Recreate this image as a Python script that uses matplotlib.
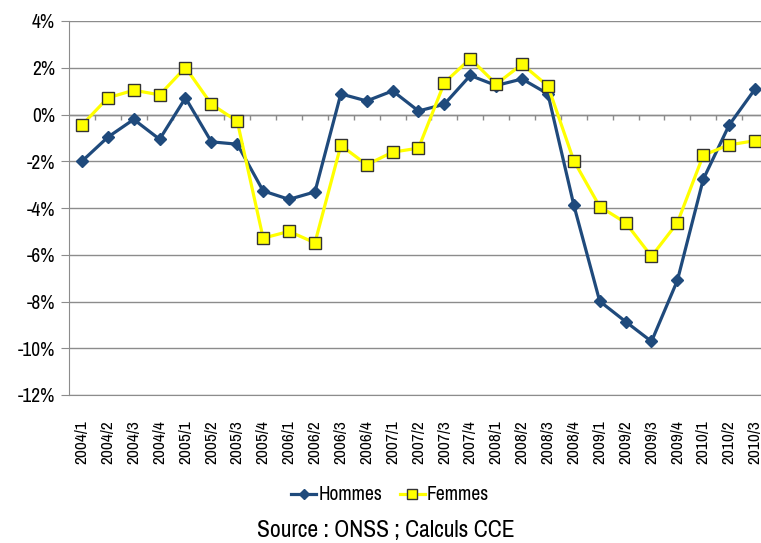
import matplotlib
matplotlib.use("Agg")
import matplotlib.pyplot as plt
import numpy as np
from matplotlib.ticker import FuncFormatter

plt.rcParams['font.family'] = ['Archivo Narrow', 'Liberation Sans Narrow', 'DejaVu Sans']

quarters = ["2004/1", "2004/2", "2004/3", "2004/4", "2005/1", "2005/2", "2005/3", "2005/4",
            "2006/1", "2006/2", "2006/3", "2006/4", "2007/1", "2007/2", "2007/3", "2007/4",
            "2008/1", "2008/2", "2008/3", "2008/4", "2009/1", "2009/2", "2009/3", "2009/4",
            "2010/1", "2010/2", "2010/3"]
hommes = [-2.0, -0.97, -0.21, -1.06, 0.71, -1.17, -1.27, -3.27,
          -3.63, -3.31, 0.88, 0.58, 1.01, 0.15, 0.44, 1.67,
          1.24, 1.52, 0.88, -3.88, -7.99, -8.86, -9.71, -7.10,
          -2.77, -0.45, 1.09]
femmes = [-0.45, 0.71, 1.04, 0.84, 2.01, 0.44, -0.29, -5.29,
          -5.0, -5.49, -1.32, -2.15, -1.61, -1.44, 1.36, 2.39,
          1.30, 2.15, 1.22, -1.98, -3.94, -4.63, -6.07, -4.63,
          -1.74, -1.30, -1.12]

blue = "#1F4A7C"
grey = "#8C8C8C"

fig = plt.figure(figsize=(7.61, 5.43), dpi=100)
ax = fig.add_axes([69/761, 1-395/543, (768-69)/761, (395-21)/543])

x = np.arange(len(quarters))
ax.plot(x, hommes, color=blue, lw=2.3, marker="D", markersize=6,
        markerfacecolor=blue, markeredgecolor=blue, label="Hommes", zorder=3)
ax.plot(x, femmes, color="#FFFF00", lw=2.3, marker="s", markersize=8.5,
        markerfacecolor="#FFFF00", markeredgecolor="#333333", markeredgewidth=1,
        label="Femmes", zorder=4)

ax.set_xlim(-0.5, len(quarters) - 0.5)
ax.set_ylim(-12, 4)
ax.set_yticks(np.arange(-12, 5, 2))
ax.yaxis.set_major_formatter(FuncFormatter(lambda v, p: f"{v:.0f}%"))
ax.grid(axis="y", color=grey, lw=1)
ax.set_axisbelow(True)

ax.set_xticks(x)
ax.set_xticklabels(quarters, rotation=90, fontsize=12.5)
ax.tick_params(axis="x", length=0, pad=18)
ax.tick_params(axis="y", length=6, color=grey, labelsize=14, pad=4)

# category axis at 0 with tick marks between categories
ax.axhline(0, color=grey, lw=1, zorder=2)
ax.vlines(np.arange(len(quarters)) + 0.5, -0.22, 0, color=grey, lw=1, zorder=2)

for s in ["top", "right"]:
    ax.spines[s].set_visible(False)
ax.spines["left"].set_color(grey)
ax.spines["bottom"].set_color(grey)

leg = fig.legend(loc="center", bbox_to_anchor=(390/761, 1-495/543), ncol=2, frameon=False,
                 fontsize=14, handlelength=1.3, handletextpad=0.1, columnspacing=0.9,
                 markerscale=0.85)
fig.text(386/761, 1-530/543, "Source : ONSS ; Calculs CCE", ha="center", va="center", fontsize=17)

fig.savefig("out.png", dpi=100)
